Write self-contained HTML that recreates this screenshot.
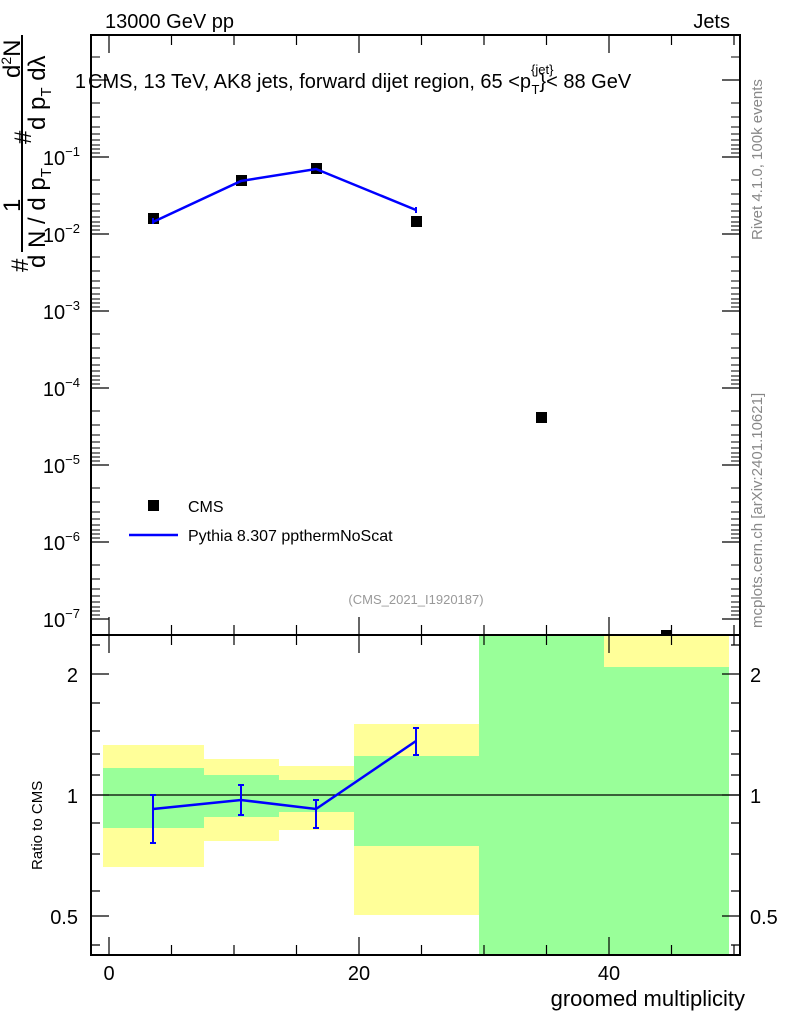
<!DOCTYPE html><html><head><style>body{margin:0;background:#fff}svg{display:block;font-family:"Liberation Sans",sans-serif}</style></head><body>
<svg width="786" height="1024" viewBox="0 0 786 1024" xmlns="http://www.w3.org/2000/svg">
<text x="105" y="28" font-size="20">13000 GeV pp</text>
<text x="730" y="28" font-size="20" text-anchor="end">Jets</text>
<g>
<rect x="103" y="745" width="101" height="122" fill="#ffff99"/><rect x="103" y="768" width="101" height="60" fill="#99ff99"/>
<rect x="204" y="759" width="75" height="82" fill="#ffff99"/><rect x="204" y="775" width="75" height="42" fill="#99ff99"/>
<rect x="279" y="766" width="75" height="64" fill="#ffff99"/><rect x="279" y="780" width="75" height="32" fill="#99ff99"/>
<rect x="354" y="724" width="125" height="191" fill="#ffff99"/><rect x="354" y="756" width="125" height="90" fill="#99ff99"/>
<rect x="479" y="635" width="125" height="320" fill="#99ff99"/>
<rect x="604" y="635" width="125" height="32" fill="#ffff99"/><rect x="604" y="667" width="125" height="288" fill="#99ff99"/>
</g>
<line x1="91" y1="795" x2="740" y2="795" stroke="#000" stroke-width="1.2"/>
<rect x="91" y="35" width="649" height="600" fill="none" stroke="#000" stroke-width="2"/>
<rect x="91" y="635" width="649" height="320" fill="none" stroke="#000" stroke-width="2"/>
<g stroke="#000" stroke-width="1.2">
<path d="M109 35v18M171.5 35v10M234 35v10M296.5 35v10M359 35v18M421.5 35v10M484 35v10M546.5 35v10M609 35v18M671.5 35v10M734 35v10"/>
<path d="M109 635v-18M171.5 635v-10M234 635v-10M296.5 635v-10M359 635v-18M421.5 635v-10M484 635v-10M546.5 635v-10M609 635v-18M671.5 635v-10M734 635v-10"/>
<path d="M109 635v18M171.5 635v10M234 635v10M296.5 635v10M359 635v18M421.5 635v10M484 635v10M546.5 635v10M609 635v18M671.5 635v10M734 635v10"/>
<path d="M109 955v-18M171.5 955v-10M234 955v-10M296.5 955v-10M359 955v-18M421.5 955v-10M484 955v-10M546.5 955v-10M609 955v-18M671.5 955v-10M734 955v-10"/>
<path d="M91 80h18M91 157h18M91 234h18M91 311h18M91 388h18M91 465h18M91 542h18M91 619h18"/>
<path d="M740 80h-18M740 157h-18M740 234h-18M740 311h-18M740 388h-18M740 465h-18M740 542h-18M740 619h-18"/>
<path d="M91 674h18M91 795h18M91 916h18M740 674h-18M740 795h-18M740 916h-18"/>
<path d="M91 645h9M91 703h9M91 731h9M91 754h9M91 775h9M91 823h9M91 854h9M91 891h9M91 945h9M740 645h-9M740 703h-9M740 731h-9M740 754h-9M740 775h-9M740 823h-9M740 854h-9M740 891h-9M740 945h-9"/>
</g>
<g stroke="#000" stroke-width="1" id="mt">
<path d="M91 57h9M91 103h9M91 117h9M91 127h9M91 134h9M91 140h9M91 145h9M91 149h9M91 153h9M91 180h9M91 194h9M91 204h9M91 211h9M91 217h9M91 222h9M91 226h9M91 230h9M91 257h9M91 271h9M91 281h9M91 288h9M91 294h9M91 299h9M91 303h9M91 307h9M91 334h9M91 348h9M91 358h9M91 365h9M91 371h9M91 376h9M91 380h9M91 384h9M91 411h9M91 425h9M91 435h9M91 442h9M91 448h9M91 453h9M91 457h9M91 461h9M91 488h9M91 502h9M91 512h9M91 519h9M91 525h9M91 530h9M91 534h9M91 538h9M91 565h9M91 579h9M91 589h9M91 596h9M91 602h9M91 607h9M91 611h9M91 615h9"/>
</g>
<use href="#mt" transform="translate(831,0) scale(-1,1)"/>
<g font-size="20" text-anchor="end">
<text x="86" y="88">1</text>
<text x="80" y="165">10<tspan font-size="13" dy="-9">−1</tspan></text>
<text x="80" y="242">10<tspan font-size="13" dy="-9">−2</tspan></text>
<text x="80" y="319">10<tspan font-size="13" dy="-9">−3</tspan></text>
<text x="80" y="396">10<tspan font-size="13" dy="-9">−4</tspan></text>
<text x="80" y="473">10<tspan font-size="13" dy="-9">−5</tspan></text>
<text x="80" y="550">10<tspan font-size="13" dy="-9">−6</tspan></text>
<text x="80" y="627">10<tspan font-size="13" dy="-9">−7</tspan></text>
<text x="78" y="682">2</text><text x="78" y="803">1</text><text x="78" y="924">0.5</text>
</g>
<g font-size="20">
<text x="750" y="682">2</text><text x="750" y="803">1</text><text x="750" y="924">0.5</text>
</g>
<g font-size="20" text-anchor="middle">
<text x="109" y="980">0</text><text x="359" y="980">20</text><text x="609" y="980">40</text>
</g>
<text x="745" y="1006" font-size="22" text-anchor="end">groomed multiplicity</text>
<text x="88" y="88" font-size="20">CMS, 13 TeV, AK8 jets, forward dijet region, 65 &lt;p<tspan font-size="13" dy="-14">{jet}</tspan><tspan font-size="13" dx="-22" dy="20">T</tspan><tspan dy="-6">}&lt; 88 GeV</tspan></text>
<g font-size="24">
<line x1="22" y1="35" x2="22" y2="252" stroke="#000" stroke-width="2"/>
<text transform="translate(28,272) rotate(-90)">#</text>
<text transform="translate(20,212) rotate(-90)">1</text>
<text transform="translate(31,144) rotate(-90)">#</text>
<text transform="translate(20,78) rotate(-90)">d<tspan font-size="14" dy="-9">2</tspan><tspan dy="9">N</tspan></text>
<text transform="translate(45,268) rotate(-90)">d N / d p<tspan font-size="15" dy="6">T</tspan></text>
<text transform="translate(45,130) rotate(-90)">d p<tspan font-size="15" dy="6">T</tspan><tspan dy="-6">  dλ</tspan></text>
</g>
<text transform="translate(42,870) rotate(-90)" font-size="15">Ratio to CMS</text>
<text transform="translate(762,240) rotate(-90)" font-size="15" fill="#888">Rivet 4.1.0,  100k events</text>
<text transform="translate(762,628) rotate(-90)" font-size="15" fill="#888">mcplots.cern.ch [arXiv:2401.10621]</text>
<text x="416" y="604" font-size="13" fill="#999" text-anchor="middle">(CMS_2021_I1920187)</text>
<rect x="148" y="500" width="11" height="11" fill="#000"/>
<text x="188" y="512" font-size="16">CMS</text>
<line x1="129" y1="535" x2="178" y2="535" stroke="#00f" stroke-width="2.5"/>
<text x="188" y="541" font-size="16">Pythia 8.307 ppthermNoScat</text>
<g fill="#000">
<rect x="148" y="213" width="11" height="11"/><rect x="236" y="175" width="11" height="11"/><rect x="311" y="163" width="11" height="11"/><rect x="411" y="216" width="11" height="11"/><rect x="536" y="412" width="11" height="11"/><rect x="661" y="630" width="11" height="5"/>
</g>
<polyline points="153,222 241,181 316,169 416,210" fill="none" stroke="#00f" stroke-width="2.5"/>
<path d="M416 207v6M153 218v6" stroke="#00f" stroke-width="2"/>
<polyline points="153,809 241,800 316,809 416,741" fill="none" stroke="#00f" stroke-width="2.5"/>
<g stroke="#00f" stroke-width="2">
<path d="M153 795v48M150 795h6M150 843h6M241 785v30M238 785h6M238 815h6M316 800v28M313 800h6M313 828h6M416 728v27M413 728h6M413 755h6"/>
</g>
</svg>
</body></html>
